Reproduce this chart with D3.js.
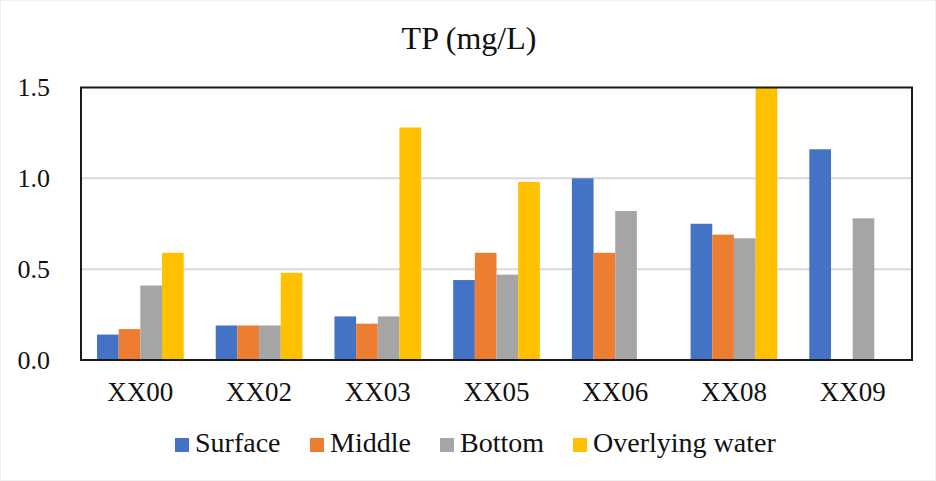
<!DOCTYPE html>
<html>
<head>
<meta charset="utf-8">
<script src="https://cdn.jsdelivr.net/npm/d3@7"></script>
<style>
  html, body { margin: 0; padding: 0; background: #fff; }
  svg { display: block; }
</style>
</head>
<body>
<svg id="chart" width="936" height="481"></svg>
<script>
// TP concentration by site and water layer
const categories = ["XX00", "XX02", "XX03", "XX05", "XX06", "XX08", "XX09"];
const seriesNames = ["Surface", "Middle", "Bottom", "Overlying water"];
const surface   = [0.14, 0.19, 0.24, 0.44, 1.00, 0.75, 1.16];
const middle    = [0.17, 0.19, 0.20, 0.59, 0.59, 0.69, null];
const bottom    = [0.41, 0.19, 0.24, 0.47, 0.82, 0.67, 0.78];
const overlying = [0.59, 0.48, 1.28, 0.98, null, 1.50, null];
const yTicks = [0, 0.5, 1.0, 1.5];
const colors = ["#4472C4", "#ED7D31", "#A5A5A5", "#FFC000"];

const seriesValues = [surface, middle, bottom, overlying];

const svg = d3.select("#chart");
const font = "'Liberation Serif', 'Times New Roman', serif";

// faint outer border of the chart area
svg.append("rect").attr("x", 0.5).attr("y", 0.5).attr("width", 935).attr("height", 480)
  .attr("fill", "none").attr("stroke", "#f0f0f0").attr("stroke-width", 1);

const plot = { left: 81, right: 912, top: 87.5, bottom: 360 };

const x0 = d3.scaleBand().domain(categories)
  .range([plot.left, plot.right]).paddingInner(0.27).paddingOuter(0.135);
const x1 = d3.scaleBand().domain(d3.range(seriesNames.length))
  .range([0, x0.bandwidth()]).padding(0);
const y = d3.scaleLinear().domain([0, 1.5]).range([plot.bottom, plot.top]);

// title
svg.append("text").attr("x", 469).attr("y", 49)
  .attr("text-anchor", "middle").attr("font-family", font).attr("font-size", 32)
  .attr("fill", "#111").text("TP (mg/L)");

// gridlines
svg.append("g").selectAll("line").data(yTicks.filter(t => t > 0 && t < 1.5)).join("line")
  .attr("x1", plot.left).attr("x2", plot.right)
  .attr("y1", d => y(d)).attr("y2", d => y(d))
  .attr("stroke", "#d9d9d9").attr("stroke-width", 2);

// bars
const rows = [];
categories.forEach((c, i) => {
  seriesValues.forEach((vals, s) => {
    if (vals[i] != null) rows.push({ c, s, v: vals[i] });
  });
});
svg.append("g").selectAll("rect").data(rows).join("rect")
  .attr("x", d => x0(d.c) + x1(d.s))
  .attr("width", x1.bandwidth())
  .attr("y", d => y(d.v))
  .attr("height", d => y(0) - y(d.v))
  .attr("fill", d => colors[d.s]);

// plot frame
svg.append("rect")
  .attr("x", plot.left).attr("y", plot.top)
  .attr("width", plot.right - plot.left).attr("height", plot.bottom - plot.top)
  .attr("fill", "none").attr("stroke", "#1a1a1a").attr("stroke-width", 2);

// y axis labels
const yAxis = d3.axisLeft(y).tickValues(yTicks).tickFormat(d3.format(".1f"))
  .tickSize(0).tickPadding(31);
const gy = svg.append("g").attr("transform", `translate(${plot.left},0)`).call(yAxis);
gy.attr("font-family", font);
gy.select(".domain").remove();
gy.selectAll("text").attr("font-family", font).attr("font-size", 26).attr("fill", "#111");

// x axis labels
const xAxis = d3.axisBottom(x0).tickSize(0).tickPadding(22);
const gx = svg.append("g").attr("transform", `translate(0,${plot.bottom})`).call(xAxis);
gx.attr("font-family", font);
gx.select(".domain").remove();
gx.selectAll("text").attr("font-family", font).attr("font-size", 27).attr("fill", "#111");

// legend
const legendX = [175, 310, 440, 573];
const legend = svg.append("g").selectAll("g").data(seriesNames).join("g")
  .attr("transform", (d, i) => `translate(${legendX[i]},0)`);
legend.append("rect").attr("x", 0).attr("y", 438).attr("width", 14).attr("height", 14)
  .attr("fill", (d, i) => colors[i]);
legend.append("text").attr("x", 20).attr("y", 452)
  .attr("font-family", font).attr("font-size", 28).attr("fill", "#111").text(d => d);
</script>
</body>
</html>
